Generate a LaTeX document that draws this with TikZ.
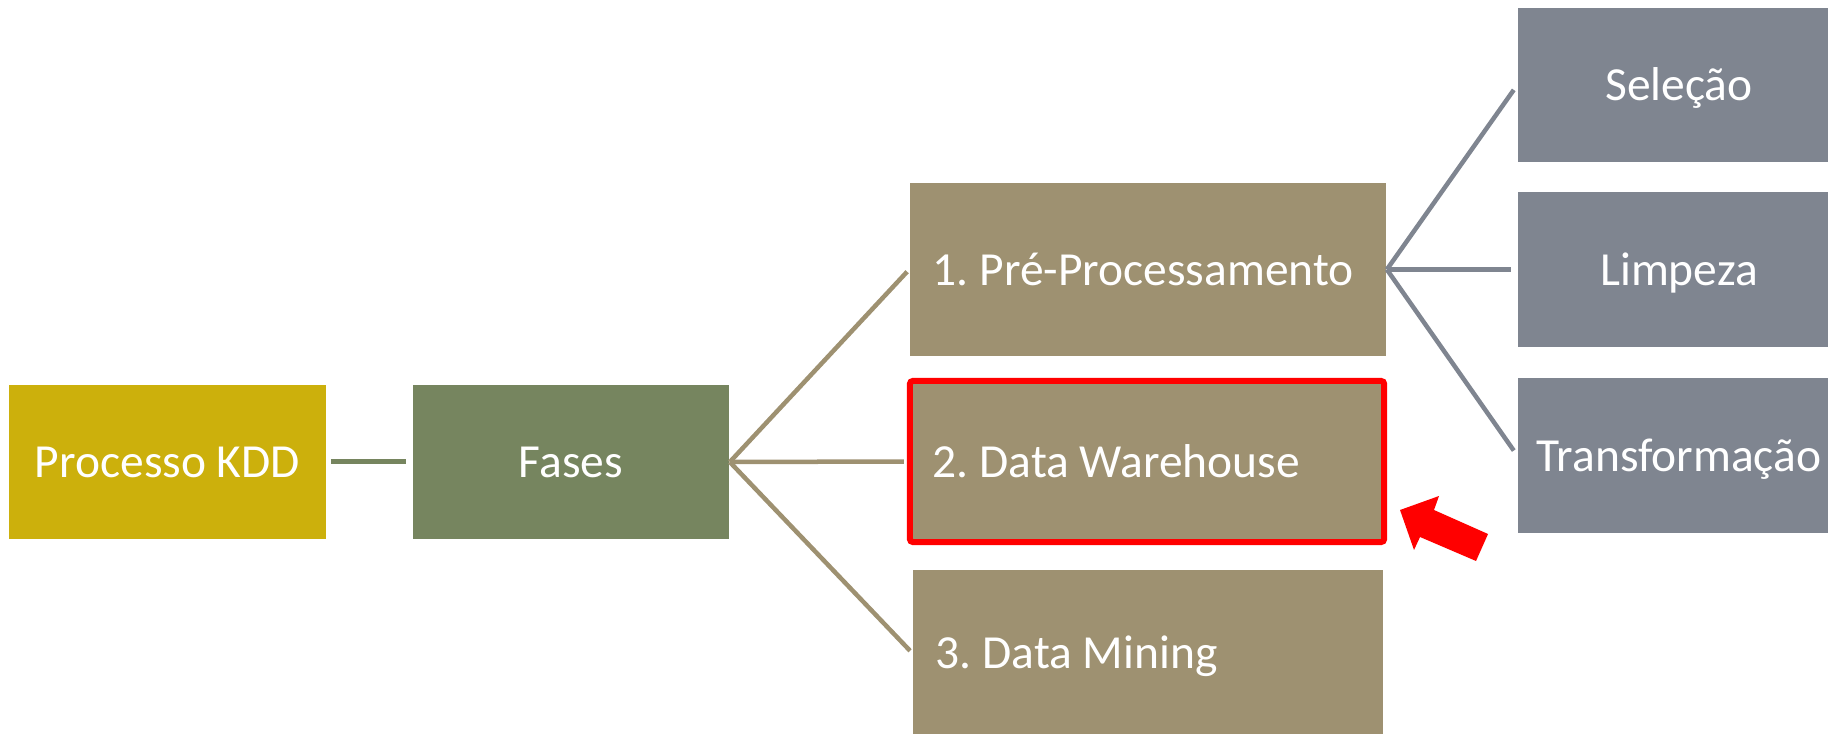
\documentclass[tikz,border=0pt]{standalone}
\usepackage{fontspec}
\setmainfont{Carlito}
\usepackage{tikz}
\usetikzlibrary{arrows}

\definecolor{kddgold}{RGB}{204,176,12}
\definecolor{fasesgreen}{RGB}{118,133,95}
\definecolor{fasetan}{RGB}{158,145,113}
\definecolor{subgray}{RGB}{127,133,144}
\definecolor{markred}{RGB}{255,0,0}

\begin{document}
\begin{tikzpicture}[x=0.01cm,y=-0.01cm,
    box/.style={inner sep=0pt, text=white, font=\fontsize{13.5}{16}\selectfont\frenchspacing,
      text height=0.4cm, text depth=0.09cm},
    kddbox/.style={box, fill=kddgold, minimum width=3.17cm, minimum height=1.54cm},
    fasebox/.style={box, fill=fasetan, inner xsep=0.23cm, align=flush left},
    subbox/.style={box, fill=subgray, minimum width=3.22cm, minimum height=1.55cm},
    kddline/.style={fasesgreen, line width=0.05cm, shorten <=0.04cm, shorten >=0.06cm},
    faseline/.style={fasetan, line width=0.045cm, shorten >=0.03cm},
    subline/.style={subgray, line width=0.045cm, shorten >=0.06cm}]%
    \useasboundingbox (0,0) rectangle (1828,734);
    \clip (0,0) rectangle (1828,734);

    \node[kddbox] (kdd) at (167.5,462) {Processo KDD};
    \node[kddbox, fill=fasesgreen, minimum width=3.16cm] (fases) at (571,462) {Fases};

    \node[fasebox, text width=4.30cm, minimum height=1.73cm] (pre) at (1148,269.5) {\mbox{1. Pré-Processamento}};
    \node[fasebox, text width=4.28cm, minimum height=1.61cm, draw=markred, line width=0.06cm,
      rounded corners=0.03cm] (dw) at (1147,461.5) {2. Data Warehouse};
    \node[fasebox, text width=4.24cm, minimum height=1.66cm] (dm) at (1148,653) {3. Data Mining};

    \node[subbox, minimum height=1.54cm] (sel) at (1679,85) {Seleção};
    \node[subbox] (lim) at (1679,269.5) {Limpeza};
    \node[subbox] (tra) at (1679,455.5) {Transformação};

    \draw[kddline] (kdd) -- (fases);
    \draw[faseline] (fases.east) -- (pre.west);
    \draw[faseline] (fases.east) -- (dw.west);
    \draw[faseline] (fases.east) -- (dm.west);
    \draw[subline] (pre.east) -- (sel.west);
    \draw[subline] (pre.east) -- (lim.west);
    \draw[subline] (pre.east) -- (tra.west);

    \fill[markred] (1400,510) -- (1439,496) -- (1434,510) -- (1488,534) -- (1476,561)
      -- (1420,537) -- (1414,550) -- cycle;
\end{tikzpicture}
\end{document}
